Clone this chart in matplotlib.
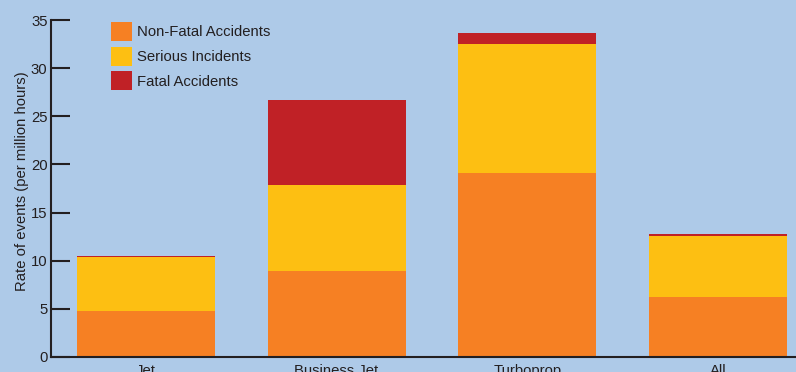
import matplotlib
matplotlib.use("Agg")
import matplotlib.pyplot as plt
import numpy as np

plt.rcParams['font.family'] = ['Liberation Sans', 'DejaVu Sans']

categories = ["Jet", "Business Jet", "Turboprop", "All"]
non_fatal = [4.8, 8.9, 19.1, 6.2]
serious = [5.55, 9.0, 13.4, 6.35]
fatal = [0.1, 8.8, 1.1, 0.2]
y_ticks = [0, 5, 10, 15, 20, 25, 30, 35]

bg = "#aecae8"
c_orange = "#f68023"
c_yellow = "#fdbf12"
c_red = "#c02126"
ink = "#231f20"
fs = 10.7

fig = plt.figure(figsize=(7.96, 3.72), dpi=100, facecolor=bg)
ax = fig.add_axes([51/796, 15/372, 1 - 51/796, 337/372], facecolor=bg)

x = np.arange(len(categories))
w = 0.7225
nf = np.array(non_fatal)
se = np.array(serious)
fa = np.array(fatal)
ax.bar(x, nf, w, color=c_orange, label="Non-Fatal Accidents", zorder=2)
ax.bar(x, se, w, bottom=nf, color=c_yellow, label="Serious Incidents", zorder=2)
ax.bar(x, fa, w, bottom=nf + se, color=c_red, label="Fatal Accidents", zorder=2)

ax.set_xlim(-0.497, 3.408)
ax.set_ylim(0, 35)
ax.set_yticks(y_ticks)
ax.set_xticks(x)
ax.set_xticklabels(categories, fontsize=fs, color=ink)
ax.tick_params(axis='y', direction='in', length=13.5, width=1.5, color=ink,
               labelsize=fs, labelcolor=ink, pad=2.5)
ax.tick_params(axis='x', length=0, pad=5)

for s in ["top", "right"]:
    ax.spines[s].set_visible(False)
for s in ["left", "bottom"]:
    ax.spines[s].set_linewidth(1.5)
    ax.spines[s].set_color(ink)
    ax.spines[s].set_zorder(3)

ax.set_ylabel("Rate of events (per million hours)", fontsize=fs, color=ink)
ax.yaxis.set_label_coords(-0.030, 0.522)

ax.legend(loc="upper left", bbox_to_anchor=(0.0805, 0.994), frameon=False, fontsize=fs,
          handlelength=1.41, handleheight=1.6, handletextpad=0.34, labelspacing=0.37,
          borderaxespad=0, borderpad=0, labelcolor=ink)

fig.savefig("out.png", dpi=100, facecolor=bg)
